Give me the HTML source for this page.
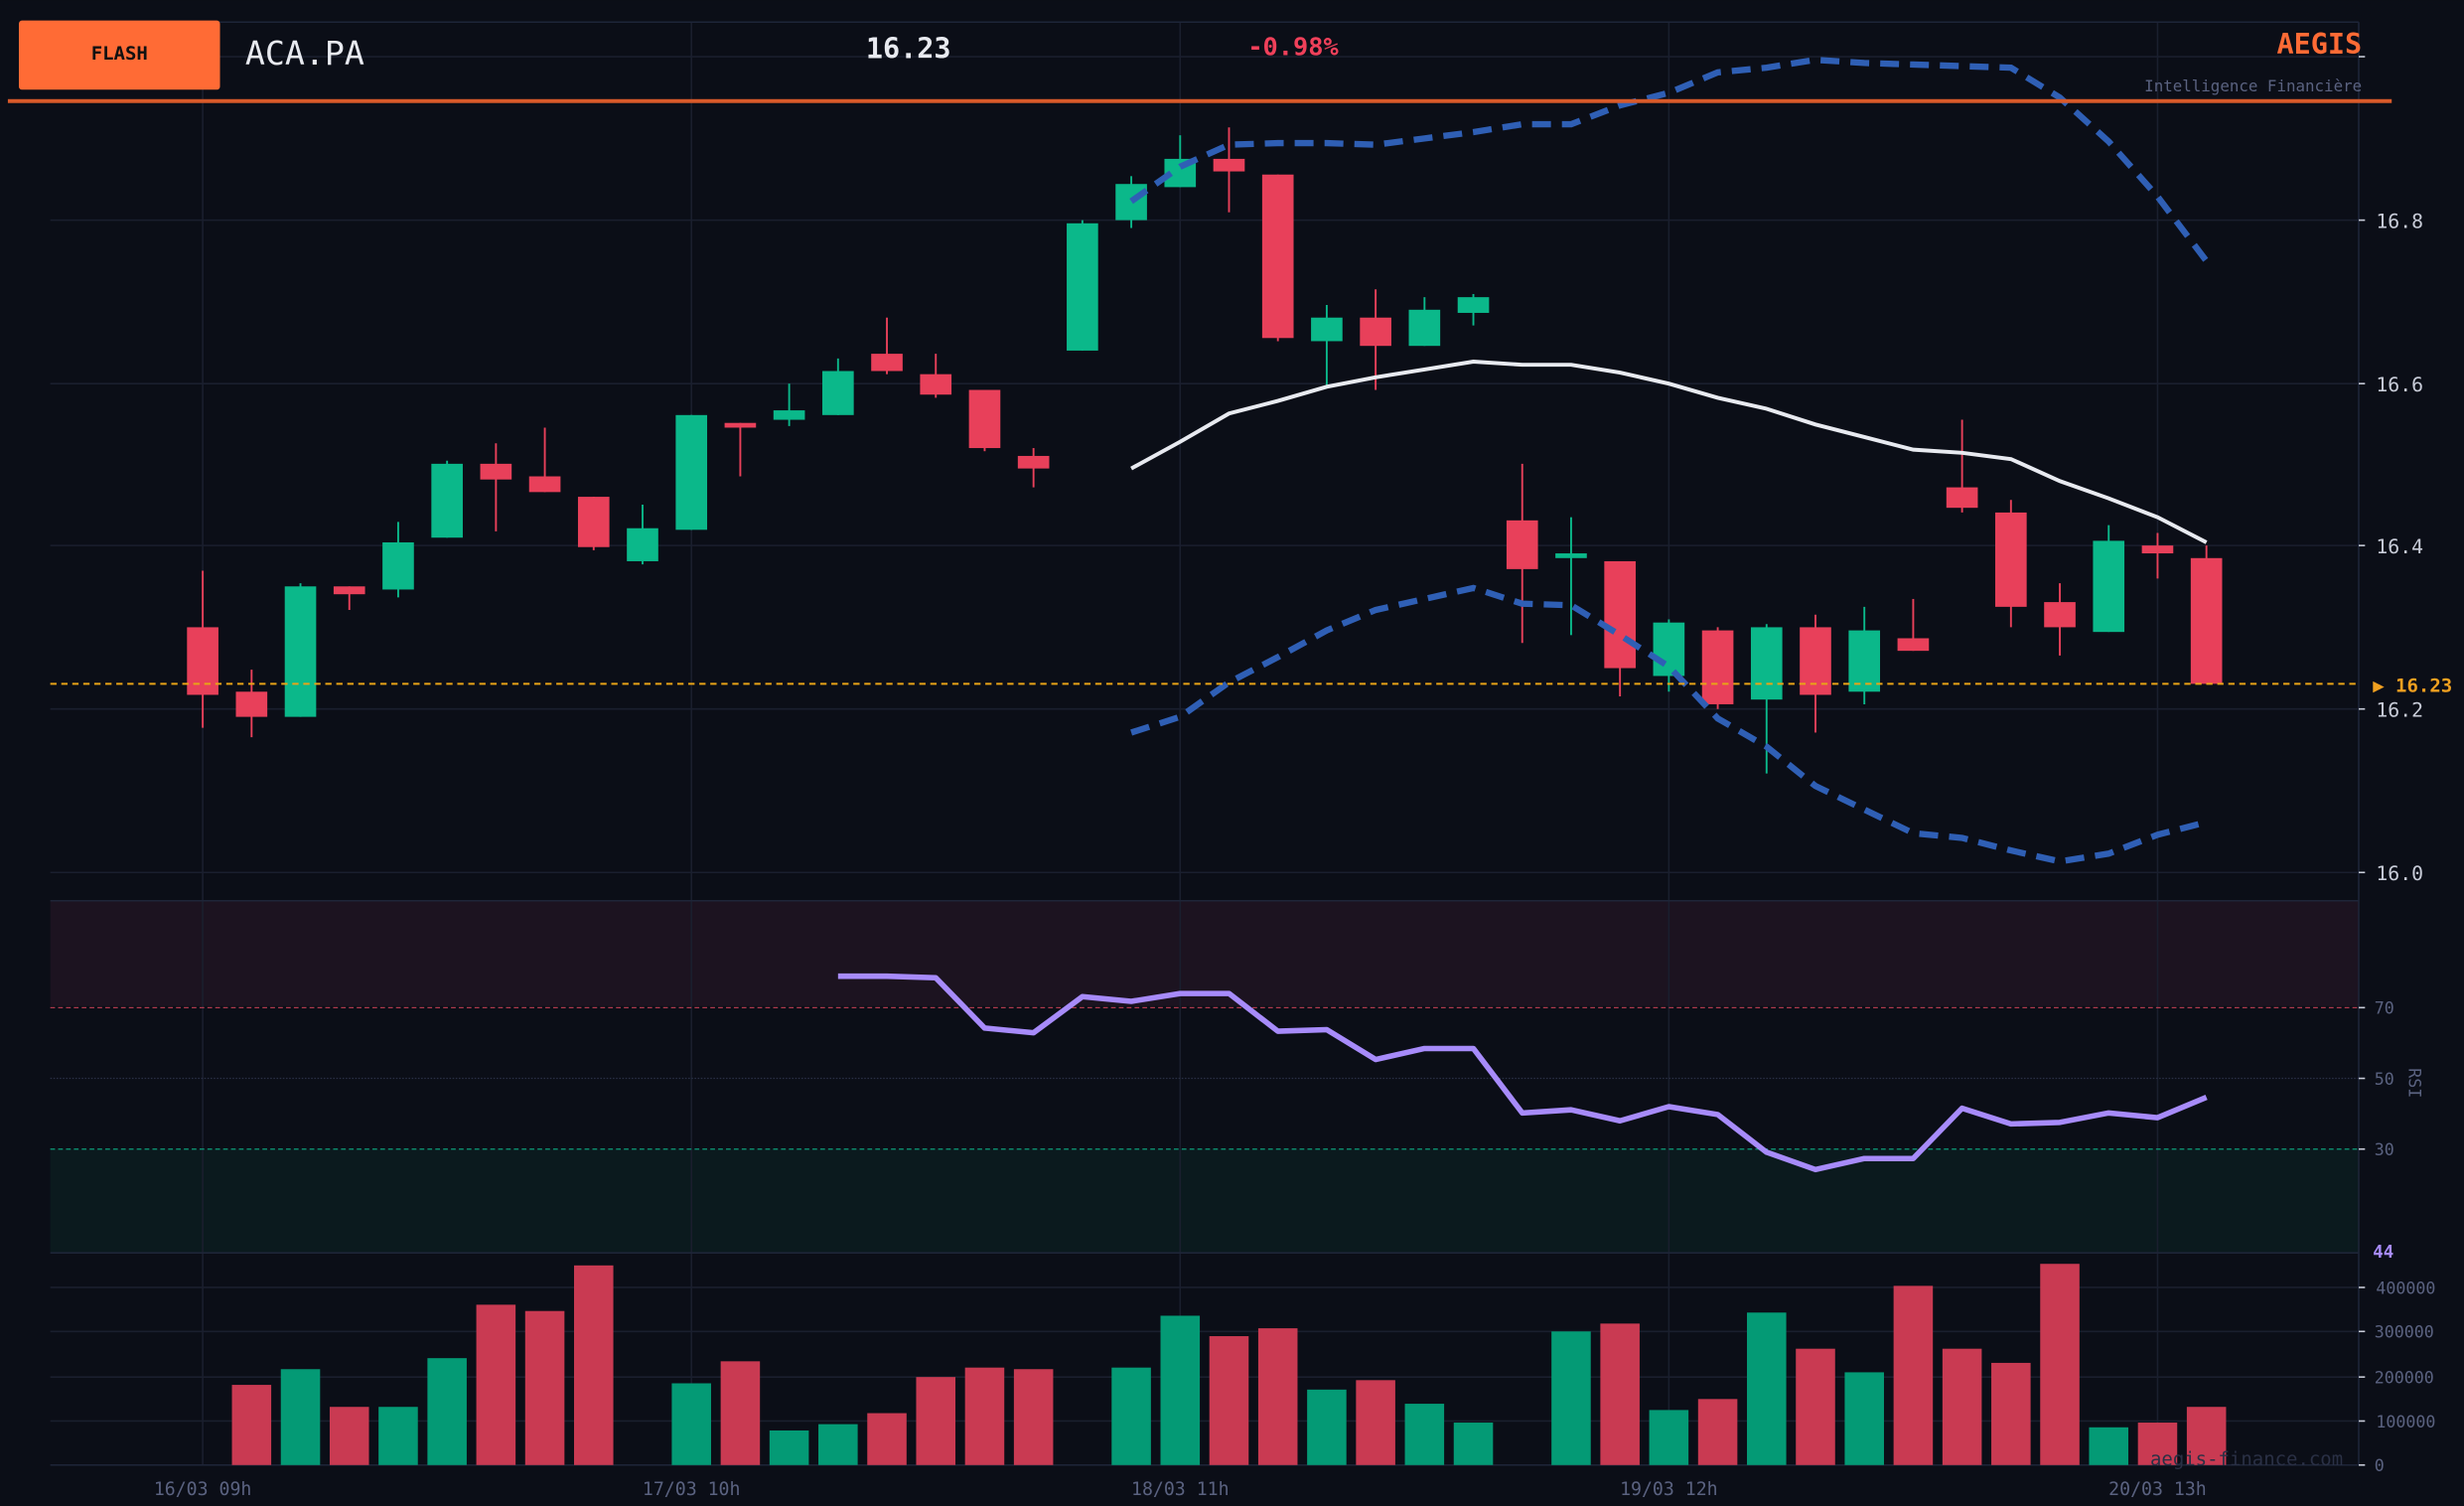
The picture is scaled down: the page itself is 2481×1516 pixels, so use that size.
<!DOCTYPE html>
<html><head><meta charset="utf-8"><style>
html,body{margin:0;padding:0;background:#0b0e17;}
svg{display:block;}
text{font-family:"DejaVu Sans Mono","Liberation Mono",monospace;}
</style></head><body>
<svg id="s" width="2481" height="1516" viewBox="0 0 1568 958" xmlns="http://www.w3.org/2000/svg">
<rect width="1568" height="958" fill="#0b0e17"/>
<!-- panels -->
<rect x="32" y="573" width="1469" height="67" fill="#1c1320"/>
<rect x="32" y="731" width="1469" height="66" fill="#0b1a1e"/>
<g id="grid" stroke="#1a1f2e" stroke-width="1"></g>
<line x1="32" y1="14" x2="1501" y2="14" stroke="#1e2538"/>
<line x1="32" y1="573" x2="1501" y2="573" stroke="#1e2538"/>
<line x1="32" y1="797" x2="1501" y2="797" stroke="#1e2538"/>
<line x1="1501" y1="14" x2="1501" y2="932" stroke="#1e2538"/>
<line x1="32" y1="932" x2="1501" y2="932" stroke="#1e2538"/>
<line x1="32" y1="641" x2="1501" y2="641" stroke="#b03a4e" stroke-dasharray="3,2" stroke-width="0.8"/>
<line x1="32" y1="731" x2="1501" y2="731" stroke="#0e9c7a" stroke-dasharray="3,2" stroke-width="0.8"/>
<line x1="32" y1="686" x2="1501" y2="686" stroke="#2a2f45" stroke-dasharray="1,1" stroke-width="0.8"/>
<g id="vol"></g>
<g id="cand"></g>
<g id="lines"></g>
<line x1="32" y1="435" x2="1501" y2="435" stroke="#e8a317" stroke-dasharray="4,3" stroke-width="1.3"/>
<!-- header -->
<rect x="12" y="13" width="128" height="44" rx="2" fill="#ff6b35"/>
<text x="76" y="38" font-size="12" font-weight="bold" fill="#111" text-anchor="middle">FLASH</text>
<text x="156" y="41" font-size="21" fill="#e8eaf0">ACA.PA</text>
<text x="551" y="37" font-size="18" font-weight="bold" fill="#e8eaf0">16.23</text>
<text x="794" y="35" font-size="16" font-weight="bold" fill="#f0405a">-0.98%</text>
<text x="1503" y="34" font-size="18" font-weight="bold" fill="#ff6b35" text-anchor="end">AEGIS</text>
<text x="1503" y="58" font-size="10" fill="#5a6280" text-anchor="end">Intelligence Financière</text>
<rect x="5" y="63" width="1517" height="2.5" fill="#d85a2a"/>
<!-- axes labels -->
<g font-size="12.5" fill="#c8ccd8" id="py">
<text x="1512" y="145">16.8</text><text x="1512" y="249">16.6</text><text x="1512" y="352">16.4</text><text x="1512" y="456">16.2</text><text x="1512" y="560">16.0</text>
</g>
<text x="1510" y="440" font-size="12" font-weight="bold" fill="#f0a020">▶ 16.23</text>
<g font-size="10.5" fill="#5a6280">
<text x="1511" y="645">70</text><text x="1511" y="690">50</text><text x="1511" y="735">30</text>
<text x="1536" y="686" transform="rotate(90 1533 686)" text-anchor="middle">RSI</text>
<text x="1512" y="823">400000</text><text x="1511" y="851">300000</text><text x="1511" y="880">200000</text><text x="1512" y="908">100000</text><text x="1511" y="936">0</text>
</g>
<text x="1510" y="800" font-size="11" font-weight="bold" fill="#a78bfa">44</text>
<g font-size="11.5" fill="#5a6280" text-anchor="middle">
<text x="129" y="951">16/03 09h</text><text x="440" y="951">17/03 10h</text><text x="751" y="951">18/03 11h</text><text x="1062" y="951">19/03 12h</text><text x="1373" y="951">20/03 13h</text>
</g>
<text x="1491" y="932" font-size="12" fill="#2a3045" text-anchor="end">aegis-finance.com</text>
<g id="ticks" stroke="#c8ccd8" stroke-width="1"></g>
</svg>
<script>
var NS="http://www.w3.org/2000/svg";
function el(p,t,a){var e=document.createElementNS(NS,t);for(var k in a)e.setAttribute(k,a[k]);document.getElementById(p).appendChild(e);return e;}
var X=function(i){return 129+i*31.1;};
[129,440,751,1062,1373].forEach(function(x){el('grid','line',{x1:x,y1:14,x2:x,y2:932});});
[36,140,244,347,451,555,819,847,876,904].forEach(function(y){el('grid','line',{x1:32,y1:y,x2:1501,y2:y});});
[140,244,347,451,555,641,686,731,819,847,876,904,932].forEach(function(y){el('ticks','line',{x1:1501,y1:y,x2:1505,y2:y});});
el('ticks','line',{x1:1501,y1:36,x2:1505,y2:36});
var G="#0bb88a",R="#e8405a";
// [o_top,o_bot,w_top,w_bot,green]
var C=[[399,442,363,463,0],[440,456,426,469,0],[373,456,371,456,1],[373,378,373,388,0],[345,375,332,380,1],[295,342,293,342,1],[295,305,282,338,0],[303,313,272,313,0],[316,348,316,350,0],[336,357,321,359,1],[264,337,264,337,1],[269,272,269,303,0],[261,267,244,271,1],[236,264,228,264,1],[225,236,202,238,0],[238,251,225,253,0],[248,285,248,287,0],[290,298,285,310,0],[142,223,140,223,1],[117,140,112,145,1],[101,119,86,119,1],[101,109,81,135,0],[111,215,111,217,0],[202,217,194,246,1],[202,220,184,248,0],[197,220,189,220,1],[189,199,187,207,1],[331,362,295,409,0],[352,355,329,404,1],[357,425,357,443,0],[396,430,394,440,1],[401,448,399,451,0],[399,445,397,492,1],[399,442,391,466,0],[401,440,386,448,1],[406,414,381,414,0],[310,323,267,326,0],[326,386,318,399,0],[383,399,371,417,0],[344,402,334,402,1],[347,352,339,368,0],[355,435,347,435,0]];
C.forEach(function(c,i){var x=X(i),col=c[4]?G:R;
el('cand','line',{x1:x,y1:c[2],x2:x,y2:c[3],stroke:col,'stroke-width':1.2});
el('cand','rect',{x:x-10,y:c[0],width:20,height:Math.max(3,c[1]-c[0]),fill:col});});
var V=[null,[881,0],[871,1],[895,0],[895,1],[864,1],[830,0],[834,0],[805,0],null,[880,1],[866,0],[910,1],[906,1],[899,0],[876,0],[870,0],[871,0],null,[870,1],[837,1],[850,0],[845,0],[884,1],[878,0],[893,1],[905,1],null,[847,1],[842,0],[897,1],[890,0],[835,1],[858,0],[873,1],[818,0],[858,0],[867,0],[804,0],[908,1],[905,0],[895,0]];
V.forEach(function(v,i){if(!v)return;el('vol','rect',{x:X(i)-12.5,y:v[0],width:25,height:932-v[0],fill:v[1]?"#049a75":"#c93a52"});});
function pl(start,ys,attrs){var p=ys.map(function(y,k){return X(start+k).toFixed(1)+","+y;}).join(" ");attrs.points=p;attrs.fill="none";el('lines','polyline',attrs);}
pl(19,[128,106,92,91,91,92,88,84,79,79,67,59,46,43,38,40,41,42,43,62,90,125,166],{stroke:"#2f5fb5",'stroke-width':4,'stroke-dasharray':"12,7"});
pl(19,[466,456,434,418,401,388,381,374,384,385,404,424,457,475,500,515,530,533,541,548,543,531,523],{stroke:"#2f5fb5",'stroke-width':4,'stroke-dasharray':"12,7"});
pl(19,[298,281,263,255,246,240,235,230,232,232,237,244,253,260,270,278,286,288,292,306,317,329,345],{stroke:"#e8eaf0",'stroke-width':2.5});
pl(13,[621,621,622,654,657,634,637,632,632,656,655,674,667,667,708,706,713,704,709,733,744,737,737,705,715,714,708,711,698],{stroke:"#a78bfa",'stroke-width':3.5,'stroke-linejoin':"round"});
</script>
</body></html>
